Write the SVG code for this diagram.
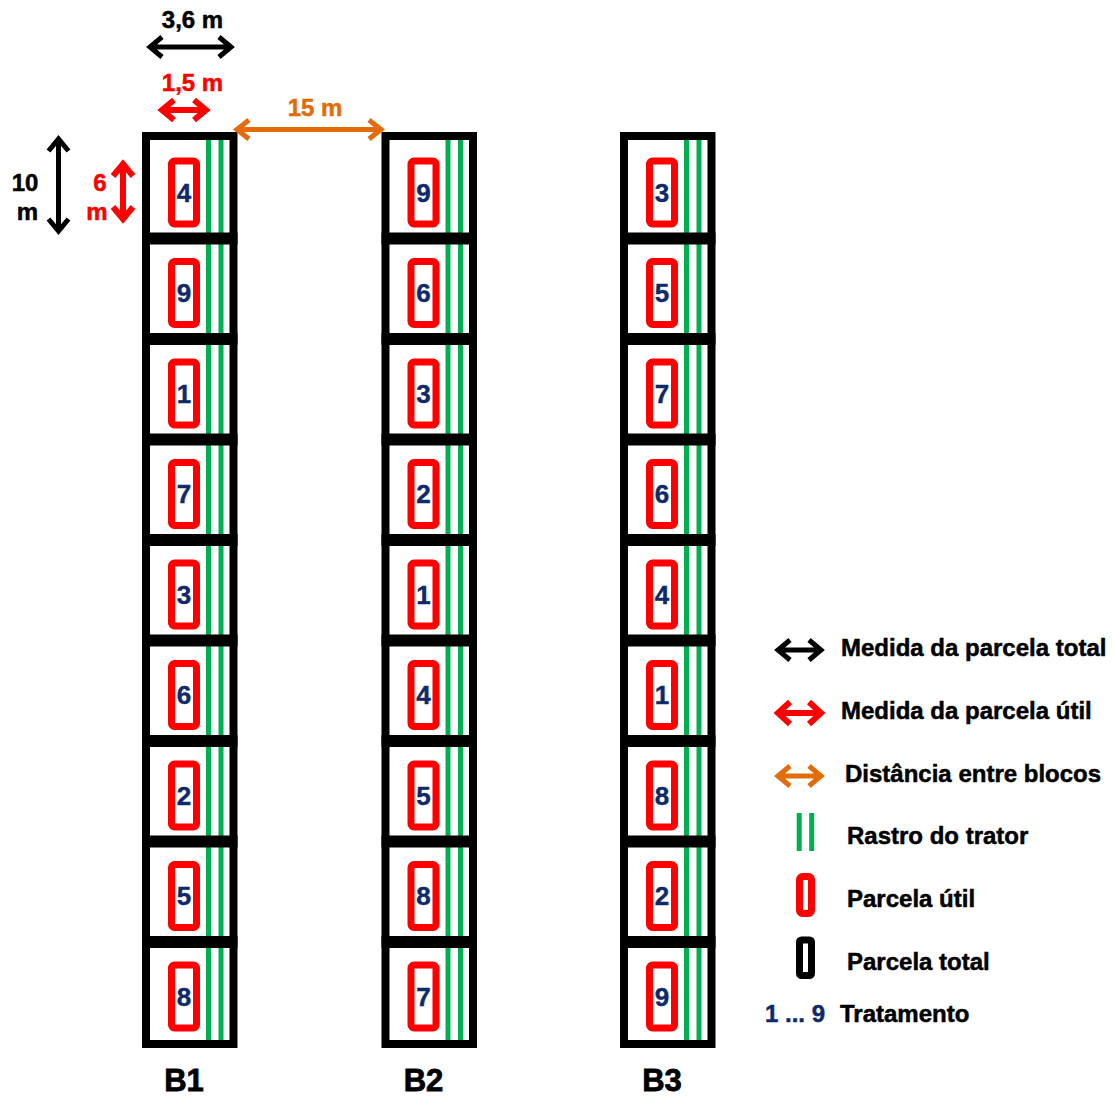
<svg xmlns="http://www.w3.org/2000/svg" width="1116" height="1097" viewBox="0 0 1116 1097">
<style>
text{font-family:"Liberation Sans",Arial,sans-serif;font-weight:bold}
.t{font-size:24px;fill:#000;stroke:#000;stroke-width:0.5}
.tr{font-size:24px;fill:#ff0000;stroke:#ff0000;stroke-width:0.5}
.to{font-size:24px;fill:#e36c0a;stroke:#e36c0a;stroke-width:0.5}
.tn{font-size:24px;fill:#0f2a6b;stroke:#0f2a6b;stroke-width:0.5}
.num{font-size:26px;fill:#0f2a6b;stroke:#0f2a6b;stroke-width:0.4;text-anchor:middle}
.lab{font-size:31px;fill:#000;stroke:#000;stroke-width:0.8;text-anchor:middle}
.mid{text-anchor:middle}
.green{stroke:#00b050;stroke-width:5;fill:none}
.outer{stroke:#000;stroke-width:8;fill:none}
.div{stroke:#000;stroke-width:12;fill:none}
.useful{stroke:#ff0000;stroke-width:7;fill:#fff}
.total{stroke:#000;stroke-width:7;fill:#fff}
.arr{fill:none;stroke-width:5;stroke-linejoin:miter;stroke-miterlimit:10}
.k{stroke:#000}.r{stroke:#ff0000;stroke-width:6}.o{stroke:#e36c0a}
</style>
<defs>
<g id="block">
<line class="green" x1="208.5" y1="140" x2="208.5" y2="1041"/>
<line class="green" x1="221" y1="140" x2="221" y2="1041"/>
<rect class="outer" x="146" y="136" width="87.5" height="908"/>
<path class="div" d="M142 238.5H237.5M142 339H237.5M142 439.5H237.5M142 540H237.5M142 640.5H237.5M142 741H237.5M142 841.5H237.5M142 942H237.5"/>
<rect class="useful" x="171.5" y="161" width="25" height="63" rx="3"/>
<rect class="useful" x="171.5" y="261.5" width="25" height="63" rx="3"/>
<rect class="useful" x="171.5" y="362" width="25" height="63" rx="3"/>
<rect class="useful" x="171.5" y="462.5" width="25" height="63" rx="3"/>
<rect class="useful" x="171.5" y="563" width="25" height="63" rx="3"/>
<rect class="useful" x="171.5" y="663.5" width="25" height="63" rx="3"/>
<rect class="useful" x="171.5" y="764" width="25" height="63" rx="3"/>
<rect class="useful" x="171.5" y="864.5" width="25" height="63" rx="3"/>
<rect class="useful" x="171.5" y="965" width="25" height="63" rx="3"/>
</g>
</defs>

<g id="block-B1">
<use href="#block"/>
<g id="B1-p1"><text class="num" x="184" y="201.5">4</text></g>
<g id="B1-p2"><text class="num" x="184" y="302">9</text></g>
<g id="B1-p3"><text class="num" x="184" y="402.5">1</text></g>
<g id="B1-p4"><text class="num" x="184" y="503">7</text></g>
<g id="B1-p5"><text class="num" x="184" y="603.5">3</text></g>
<g id="B1-p6"><text class="num" x="184" y="704">6</text></g>
<g id="B1-p7"><text class="num" x="184" y="804.5">2</text></g>
<g id="B1-p8"><text class="num" x="184" y="905">5</text></g>
<g id="B1-p9"><text class="num" x="184" y="1005.5">8</text></g>
<text class="lab" x="184" y="1090.5">B1</text>
</g>

<g id="block-B2" transform="translate(239.5,0)">
<use href="#block"/>
<g id="B2-p1"><text class="num" x="184" y="201.5">9</text></g>
<g id="B2-p2"><text class="num" x="184" y="302">6</text></g>
<g id="B2-p3"><text class="num" x="184" y="402.5">3</text></g>
<g id="B2-p4"><text class="num" x="184" y="503">2</text></g>
<g id="B2-p5"><text class="num" x="184" y="603.5">1</text></g>
<g id="B2-p6"><text class="num" x="184" y="704">4</text></g>
<g id="B2-p7"><text class="num" x="184" y="804.5">5</text></g>
<g id="B2-p8"><text class="num" x="184" y="905">8</text></g>
<g id="B2-p9"><text class="num" x="184" y="1005.5">7</text></g>
<text class="lab" x="184" y="1090.5">B2</text>
</g>

<g id="block-B3" transform="translate(478,0)">
<use href="#block"/>
<g id="B3-p1"><text class="num" x="184" y="201.5">3</text></g>
<g id="B3-p2"><text class="num" x="184" y="302">5</text></g>
<g id="B3-p3"><text class="num" x="184" y="402.5">7</text></g>
<g id="B3-p4"><text class="num" x="184" y="503">6</text></g>
<g id="B3-p5"><text class="num" x="184" y="603.5">4</text></g>
<g id="B3-p6"><text class="num" x="184" y="704">1</text></g>
<g id="B3-p7"><text class="num" x="184" y="804.5">8</text></g>
<g id="B3-p8"><text class="num" x="184" y="905">2</text></g>
<g id="B3-p9"><text class="num" x="184" y="1005.5">9</text></g>
<text class="lab" x="184" y="1090.5">B3</text>
</g>

<g id="connectors">
<path class="arr k" d="M149 47H232M162 37L150 47L162 57M219 37L231 47L219 57"/>
<path class="arr r" d="M161 110H207M174 100L162 110L174 120M194 100L206 110L194 120"/>
<path class="arr o" d="M236 129.5H382M249 120L237 129.5L249 139M369 120L381 129.5L369 139"/>
<path class="arr k" d="M58.5 138V232M48.5 151L58.5 139L68.5 151M48.5 219L58.5 231L68.5 219"/>
<path class="arr r" d="M123 163V220M113 176L123 164L133 176M113 207L123 219L133 207"/>
</g>
<g id="dim-labels">
<text class="t mid" x="192.5" y="28">3,6 m</text>
<text class="tr mid" x="192.5" y="91">1,5 m</text>
<text class="to mid" x="315" y="116">15 m</text>
<text class="t mid" x="25" y="191">10</text>
<text class="t mid" x="27.5" y="220">m</text>
<text class="tr mid" x="100" y="191">6</text>
<text class="tr mid" x="97" y="220">m</text>
</g>

<g id="legend">
<g id="leg-total-measure">
<path class="arr k" d="M777 650H822M790 640L778 650L790 660M809 640L821 650L809 660"/>
<text class="t" x="841" y="656">Medida da parcela total</text>
</g>
<g id="leg-useful-measure">
<path class="arr r" d="M777 713H822M790 702L778 713L790 724M809 702L821 713L809 724"/>
<text class="t" x="841" y="719">Medida da parcela útil</text>
</g>
<g id="leg-distance">
<path class="arr o" d="M777 776H822M790 766L778 776L790 786M809 766L821 776L809 786"/>
<text class="t" x="845" y="782">Distância entre blocos</text>
</g>
<g id="leg-track">
<line class="green" x1="799.2" y1="813" x2="799.2" y2="851"/>
<line class="green" x1="811.7" y1="813" x2="811.7" y2="851"/>
<text class="t" x="847" y="844">Rastro do trator</text>
</g>
<g id="leg-useful">
<rect class="useful" x="799.5" y="876.5" width="12" height="37" rx="3"/>
<text class="t" x="847" y="907">Parcela útil</text>
</g>
<g id="leg-total">
<rect class="total" x="799.5" y="940" width="12" height="35.5" rx="2"/>
<text class="t" x="847" y="970">Parcela total</text>
</g>
<g id="leg-treat">
<text class="tn" x="765" y="1022">1 ... 9</text>
<text class="t" x="840" y="1022">Tratamento</text>
</g>
</g>
</svg>
